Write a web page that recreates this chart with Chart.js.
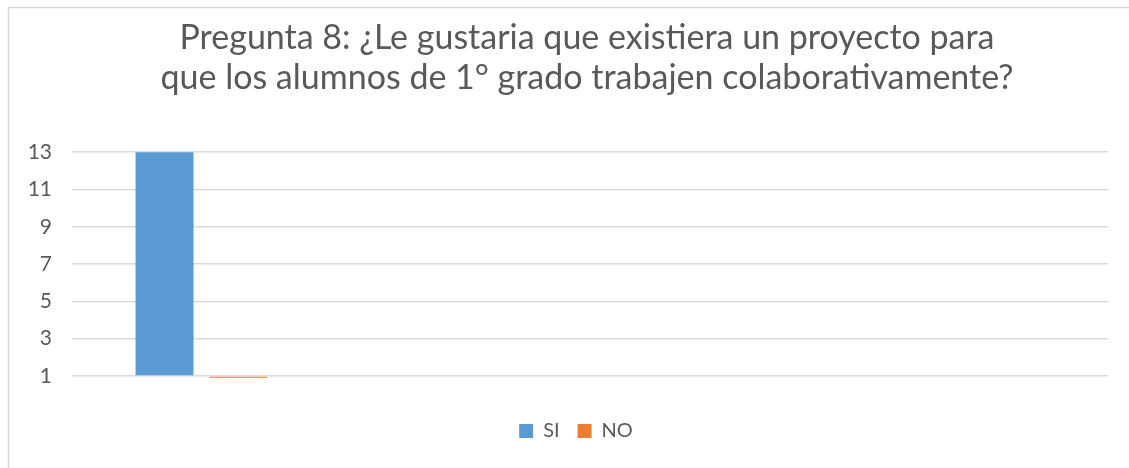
<!DOCTYPE html>
<html>
<head>
<meta charset="utf-8">
<script src="https://cdn.jsdelivr.net/npm/chart.js@4.4.0/dist/chart.umd.min.js"></script>
<style>
  html, body { margin: 0; padding: 0; background: #ffffff; }
  #wrap { width: 1129px; height: 468px; position: relative; }
</style>
</head>
<body>
<div id="wrap"><canvas id="c" width="1129" height="468"></canvas></div>
<script>
const categories = ["", "", "", ""];
const seriesNames = ["SI", "NO"];
const siValues = [13, null, null, null];
const noValues = [0.9, null, null, null];
const yTicks = [1, 3, 5, 7, 9, 11, 13];
const titleLines = ["Pregunta 8: ¿Le gustaria que existiera un proyecto para", "que los alumnos de 1° grado trabajen colaborativamente?"];

const FONT = "Lato, 'Open Sans', sans-serif";
const TEXT = "#595959";

const framePlugin = {
  id: 'frame',
  beforeDraw(chart) {
    const ctx = chart.ctx;
    ctx.save();
    ctx.fillStyle = '#ffffff';
    ctx.fillRect(0, 0, chart.width, chart.height);
    ctx.strokeStyle = '#d9d9d9';
    ctx.lineWidth = 1.5;
    ctx.beginPath();
    ctx.moveTo(8.5, chart.height + 2);
    ctx.lineTo(8.5, 7.5);
    ctx.lineTo(chart.width + 2, 7.5);
    ctx.stroke();
    ctx.restore();
  }
};

// The original chart frame is wider than the visible crop: shift centred blocks right.
const shiftPlugin = {
  id: 'shiftBlocks',
  afterLayout(chart) {
    const t = chart.titleBlock;
    if (t) { t.left += 23; t.right += 23; t.top += 3; t.bottom += 3; }
    const l = chart.legend;
    if (l) { l.left += 12; l.right += 12; }
  }
};

new Chart(document.getElementById('c'), {
  type: 'bar',
  data: {
    labels: categories,
    datasets: [
      { label: seriesNames[0], data: siValues, backgroundColor: '#5b9bd5', base: 1, clip: 4 },
      { label: seriesNames[1], data: noValues, backgroundColor: '#ed7d31', base: 1, clip: 4 }
    ]
  },
  options: {
    responsive: false,
    animation: false,
    devicePixelRatio: 1,
    layout: { padding: { left: 20, right: 21, top: 14, bottom: 17 } },
    datasets: { bar: { categoryPercentage: 0.571, barPercentage: 0.784 } },
    scales: {
      x: {
        grid: { display: false, drawTicks: false },
        border: { display: false },
        ticks: { display: false },
        afterFit(scale) { scale.height = 27; }
      },
      y: {
        min: 1,
        max: 13,
        afterBuildTicks(scale) { scale.ticks = yTicks.map(v => ({ value: v })); },
        afterFit(scale) { scale.width = 52; },
        grid: { color: '#d9d9d9', lineWidth: 1.5, drawTicks: false },
        border: { display: false },
        ticks: { color: TEXT, font: { family: FONT, size: 21 }, padding: 20 }
      }
    },
    plugins: {
      title: {
        display: true,
        text: titleLines,
        color: TEXT,
        font: { family: FONT, size: 34, weight: 'normal', lineHeight: 1.18 },
        padding: { top: 1, bottom: 57 }
      },
      legend: {
        position: 'bottom',
        labels: {
          color: TEXT,
          font: { family: FONT, size: 20 },
          boxWidth: 14,
          boxHeight: 14,
          padding: 18
        }
      },
      tooltip: { enabled: false }
    }
  },
  plugins: [framePlugin, shiftPlugin]
});
</script>
</body>
</html>
